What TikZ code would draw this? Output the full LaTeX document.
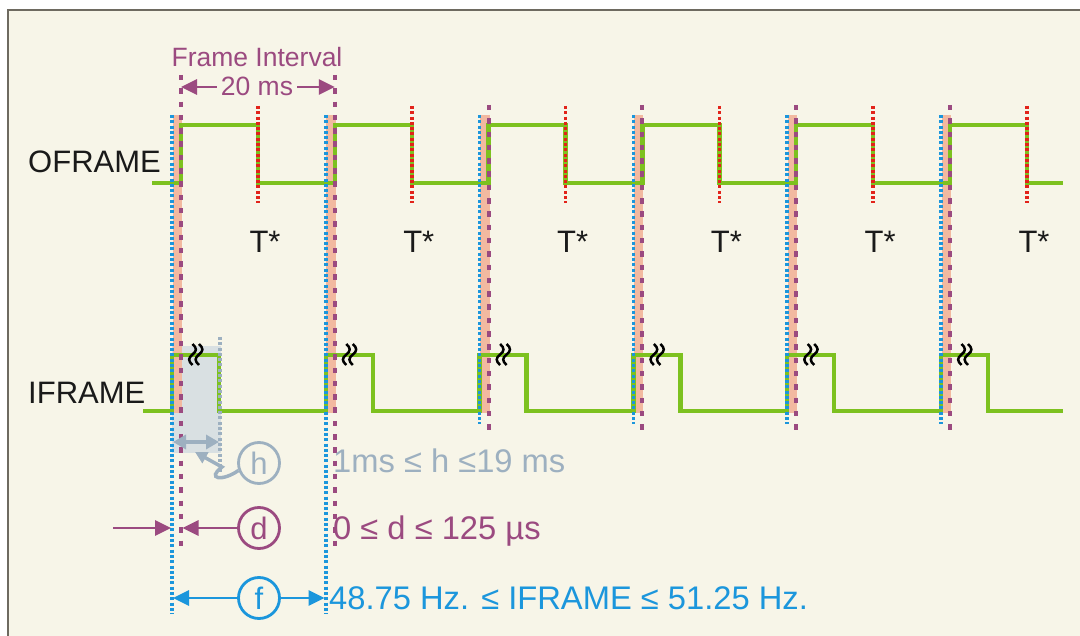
\documentclass[tikz,border=0pt]{standalone}
\usepackage{fontspec}
\setmainfont{Liberation Sans}
\usetikzlibrary{arrows.meta}
\definecolor{bg}{HTML}{F7F5E8}
\definecolor{sig}{HTML}{7DC11F}
\definecolor{pur}{HTML}{9B4A80}
\definecolor{blu}{HTML}{1B96DC}
\definecolor{redd}{HTML}{E2231A}
\definecolor{sal}{HTML}{F2B9A0}
\definecolor{gry}{HTML}{9DB0C0}
\definecolor{boxc}{HTML}{D9E0E2}
\definecolor{frm}{HTML}{6E6A60}
\definecolor{txt}{HTML}{1A1A1A}
\tikzset{
  bluedot/.style={blu, line width=3.5pt, dash pattern=on 3pt off 2.3pt},
  reddot/.style={redd, line width=3.5pt, dash pattern=on 3pt off 2.3pt},
  graydot/.style={gry, line width=3.5pt, dash pattern=on 3pt off 2.3pt},
  purdash/.style={pur, line width=4pt, dash pattern=on 5.5pt off 7.8pt},
  sigline/.style={sig, line width=4.5pt},
  lbl/.style={font=\fontsize{31}{36}\selectfont, inner sep=0pt, text=txt},
  lbl2/.style={font=\fontsize{32.7}{38}\selectfont, inner sep=0pt},
  smallp/.style={font=\fontsize{26.5}{31}\selectfont, text=pur},
  circ/.style={circle, minimum size=41pt, inner sep=0pt, line width=2.8pt, fill=bg, font=\fontsize{31}{35}\selectfont},
  parrow/.style={pur, line width=2.8pt, -{Triangle[length=16pt,width=15pt]}},
  barrow/.style={blu, line width=2.8pt, -{Triangle[length=16pt,width=15pt]}},
  garrow/.style={gry, line width=3.5pt, {Triangle[length=13pt,width=14pt]}-{Triangle[length=13pt,width=14pt]}},
  squig/.style={black, line width=2.5pt}
}
\def\periods{172,325.8,479.6,633.4,787.2,941}
\begin{document}
\begin{tikzpicture}[x=1pt,y=-1pt]
\useasboundingbox (0,0) rectangle (1080,636);
\fill[bg] (8,10) rectangle (1080,636);
\draw[frm,line width=1.5pt] (8,636) -- (8,10) -- (1080,10);

% h box
\fill[boxc] (172,346) rectangle (221,453);

% salmon bands
\foreach \b in \periods { \fill[sal] (\b+0.5,115) rectangle (\b+10,413); }

% signals
\draw[sigline] (152,183) \foreach \b in \periods { -- (\b+9,183) -- (\b+9,125) -- (\b+86,125) -- (\b+86,183) } -- (1063,183);
\draw[sigline] (143,411) \foreach \b in \periods { -- (\b,411) -- (\b,355) -- (\b+47,355) -- (\b+47,411) } -- (1063,411);

% red dotted
\foreach \b in \periods { \draw[reddot] (\b+86,106) -- (\b+86,203); }
% blue dotted
\foreach \b in {172,325.8} { \draw[bluedot] (\b,115) -- (\b,614); }
\foreach \b in {479.6,633.4,787.2,941} { \draw[bluedot] (\b,115) -- (\b,424); }
% purple dashed
\foreach \b in {172,325.8} { \draw[purdash] (\b+9,75) -- (\b+9,550); }
\foreach \b in {479.6,633.4,787.2,941} { \draw[purdash] (\b+9,105) -- (\b+9,434); }
% gray dotted
\draw[graydot] (220,337) -- (220,474);

% squiggles
\foreach \b in \periods {
  \foreach \dx in {20.5,27} {
    \draw[squig] (\b+\dx,344) .. controls (\b+\dx+4.5,348) and (\b+\dx+4.5,351) .. (\b+\dx,354.5)
                 .. controls (\b+\dx-4.5,358) and (\b+\dx-4.5,361) .. (\b+\dx,365);
  }
}

% T* labels
\foreach \b [count=\i] in \periods { \node[lbl, anchor=base] (t\i) at (\b+93,253) {T*}; }

% signal names
\node[lbl, anchor=base west] (oframe) at (28,173) {OFRAME};
\node[lbl, anchor=base west] (iframe) at (28,404) {IFRAME};

% frame interval
\node[smallp, inner sep=0pt, anchor=base] (fi) at (257,67) {Frame Interval};
\node[smallp, inner sep=4pt, anchor=base] (ms) at (257,96) {20 ms};
\coordinate (msL) at (181,87);
\coordinate (msR) at (334.8,87);
\draw[parrow] (ms.west |- msL) -- (msL);
\draw[parrow] (ms.east |- msR) -- (msR);

% h
\coordinate (hL) at (173,442);
\coordinate (hR) at (219,442);
\draw[garrow] (hL) -- (hR);
\node[circ, draw=gry, text=gry] (hc) at (259,463) {h};
\coordinate (hTip) at (195,452);
\draw[gry, line width=3.5pt, -{Triangle[length=12pt,width=12pt]}] (hc.200) .. controls (222,482) and (206,479) .. (222,467) -- (hTip);
\node[lbl2, text=gry, anchor=base west] (htxt) at (333,473) {1ms ≤ h ≤19 ms};

% d
\node[circ, draw=pur, text=pur] (dc) at (259,528) {d};
\coordinate (dStart) at (113,528);
\coordinate (dBlue) at (171,528);
\coordinate (dPur) at (182.5,528);
\draw[parrow] (dStart) -- (dBlue);
\draw[parrow] (dc.west) -- (dPur);
\node[lbl2, text=pur, anchor=base west] (dtxt) at (333,539) {0 ≤ d ≤ 125 µs};

% f
\node[circ, draw=blu, text=blu] (fc) at (259,598) {f};
\coordinate (fL) at (173,598);
\coordinate (fR) at (324.5,598);
\draw[barrow] (fc.west) -- (fL);
\draw[barrow] (fc.east) -- (fR);
\node[lbl2, text=blu, anchor=base west] (ftxt) at (329,609) {48.75 Hz. ≤ IFRAME ≤ 51.25 Hz.};
\end{tikzpicture}
\end{document}
